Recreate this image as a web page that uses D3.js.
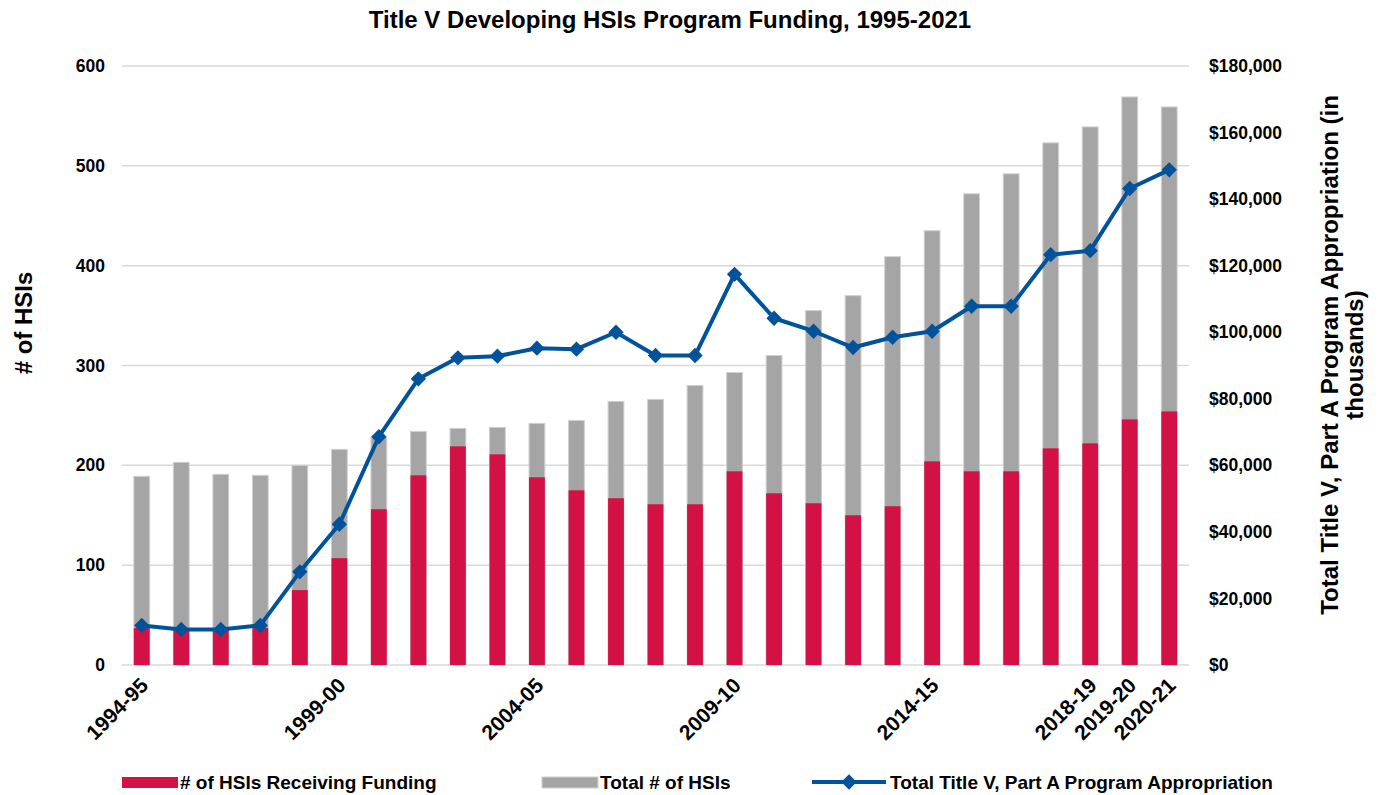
<!DOCTYPE html>
<html>
<head>
<meta charset="utf-8">
<script src="https://cdn.jsdelivr.net/npm/d3@7"></script>
<style>
  body { margin: 0; background: #fff; }
  text { font-family: "Liberation Sans", Arial, sans-serif; font-weight: bold; fill: #000; }
</style>
</head>
<body>
<div id="chart"></div>
<script>
// datos
const years = ["1994-95","1995-96","1996-97","1997-98","1998-99","1999-00","2000-01","2001-02",
  "2002-03","2003-04","2004-05","2005-06","2006-07","2007-08","2008-09","2009-10","2010-11",
  "2011-12","2012-13","2013-14","2014-15","2015-16","2016-17","2017-18","2018-19","2019-20","2020-21"];
const receiving = [37, 36, 36, 37, 75, 107, 156, 190, 219, 211, 188, 175, 167, 161, 161, 194, 172,
  162, 150, 159, 204, 194, 194, 217, 222, 246, 254];
const totalHSIs = [189, 203, 191, 190, 200, 216, 228, 234, 237, 238, 242, 245, 264, 266, 280, 293, 310,
  355, 370, 409, 435, 472, 492, 523, 539, 569, 559];
const appropriation = [11900, 10700, 10700, 11900, 28000, 42300, 68600, 86000, 92300, 92800, 95200, 94900,
  100000, 93000, 93000, 117400, 104200, 100300, 95400, 98500, 100300, 107800, 107800, 123300, 124500, 143200, 148800];
const labelYears = ["1994-95","1999-00","2004-05","2009-10","2014-15","2018-19","2019-20","2020-21"];
const leftTicks = [0, 100, 200, 300, 400, 500, 600];
const rightTicks = [0, 20000, 40000, 60000, 80000, 100000, 120000, 140000, 160000, 180000];

const W = 1384, H = 795;
const margin = {top: 66, right: 195, bottom: 130, left: 122};
const width = W - margin.left - margin.right;
const height = H - margin.top - margin.bottom;

const svg = d3.select("#chart").append("svg")
    .attr("width", W)
    .attr("height", H);

const g = svg.append("g")
    .attr("transform", `translate(${margin.left}, ${margin.top})`);

const x = d3.scaleBand().domain(years).range([0, width]).paddingInner(0.6).paddingOuter(0.3);
const yL = d3.scaleLinear().domain([0, 600]).range([height, 0]);
const yR = d3.scaleLinear().domain([0, 180000]).range([height, 0]);

// Rejilla
g.append("g").selectAll("line")
    .data(leftTicks)
    .join("line")
    .attr("x1", 0).attr("x2", width)
    .attr("y1", d => yL(d)).attr("y2", d => yL(d))
    .attr("stroke", "#d9d9d9")
    .attr("stroke-width", 1.5);

// Eje izquierdo
const axL = g.append("g")
    .call(d3.axisLeft(yL).tickValues(leftTicks).tickSize(0).tickPadding(17));
axL.select(".domain").remove();
axL.selectAll("text").style("font-size", "17.5px");

// Eje derecho
const axR = g.append("g")
    .attr("transform", `translate(${width}, 0)`)
    .call(d3.axisRight(yR).tickValues(rightTicks).tickSize(0).tickPadding(20)
        .tickFormat(d => "$" + d3.format(",")(d)));
axR.select(".domain").remove();
axR.selectAll("text").style("font-size", "17.5px");

// Eje X
const axX = g.append("g")
    .attr("transform", `translate(0, ${height})`)
    .call(d3.axisBottom(x).tickSize(0).tickPadding(3).tickValues(labelYears));
axX.select(".domain").remove();
axX.selectAll("text")
    .style("font-size", "21px")
    .style("text-anchor", "end")
    .attr("dx", "-0.47em")
    .attr("dy", "0.85em")
    .attr("transform", "rotate(-45)");

// Barras grises (total)
g.append("g").selectAll("rect")
    .data(years)
    .join("rect")
    .attr("x", d => x(d))
    .attr("y", (d, i) => yL(totalHSIs[i]))
    .attr("width", x.bandwidth())
    .attr("height", (d, i) => height - yL(totalHSIs[i]))
    .attr("fill", "#a5a5a5")
    .attr("stroke", "#d0d0d0")
    .attr("stroke-width", 1);

// Barras rojas
g.append("g").selectAll("rect")
    .data(years)
    .join("rect")
    .attr("x", d => x(d))
    .attr("y", (d, i) => yL(receiving[i]))
    .attr("width", x.bandwidth())
    .attr("height", (d, i) => height - yL(receiving[i]))
    .attr("fill", "#d31145");

// Linea
const cx = d => x(d) + x.bandwidth() / 2;
const line = d3.line()
    .x(d => cx(d))
    .y((d, i) => yR(appropriation[i]));
g.append("path")
    .datum(years)
    .attr("d", line)
    .attr("fill", "none")
    .attr("stroke", "#00539b")
    .attr("stroke-width", 4)
    .attr("stroke-linejoin", "round");

const diamond = d3.symbol().type(d3.symbolDiamond2).size(150);
g.append("g").selectAll("path")
    .data(years)
    .join("path")
    .attr("d", diamond)
    .attr("transform", (d, i) => `translate(${cx(d)}, ${yR(appropriation[i])})`)
    .attr("fill", "#00539b");

// Titulos
svg.append("text")
    .attr("x", 670).attr("y", 28)
    .attr("text-anchor", "middle")
    .style("font-size", "24px")
    .text("Title V Developing HSIs Program Funding, 1995-2021");

svg.append("text")
    .attr("transform", "translate(32, 323) rotate(-90)")
    .attr("text-anchor", "middle")
    .style("font-size", "24px")
    .text("# of HSIs");

const rt = svg.append("text")
    .attr("transform", "translate(1338, 355) rotate(-90)")
    .attr("text-anchor", "middle")
    .style("font-size", "24px");
rt.append("tspan").attr("x", 0).attr("dy", "0em").text("Total Title V, Part A Program Appropriation (in");
rt.append("tspan").attr("x", 0).attr("dy", "1.05em").text("thousands)");

// Leyenda
const legend = svg.append("g").attr("transform", "translate(0, 782)");
legend.append("rect").attr("x", 122).attr("y", -5).attr("width", 56).attr("height", 11).attr("fill", "#d31145");
legend.append("text").attr("x", 180).attr("y", 7).style("font-size", "19px").text("# of HSIs Receiving Funding");
legend.append("rect").attr("x", 542).attr("y", -5).attr("width", 56).attr("height", 11)
    .attr("fill", "#a5a5a5").attr("stroke", "#d0d0d0");
legend.append("text").attr("x", 600).attr("y", 7).style("font-size", "19px").text("Total # of HSIs");
legend.append("line").attr("x1", 812).attr("x2", 886).attr("y1", 0).attr("y2", 0)
    .attr("stroke", "#00539b").attr("stroke-width", 4);
legend.append("path").attr("d", diamond).attr("transform", "translate(849, 0)").attr("fill", "#00539b");
legend.append("text").attr("x", 890).attr("y", 7).style("font-size", "19px").text("Total Title V, Part A Program Appropriation");
</script>
</body>
</html>
